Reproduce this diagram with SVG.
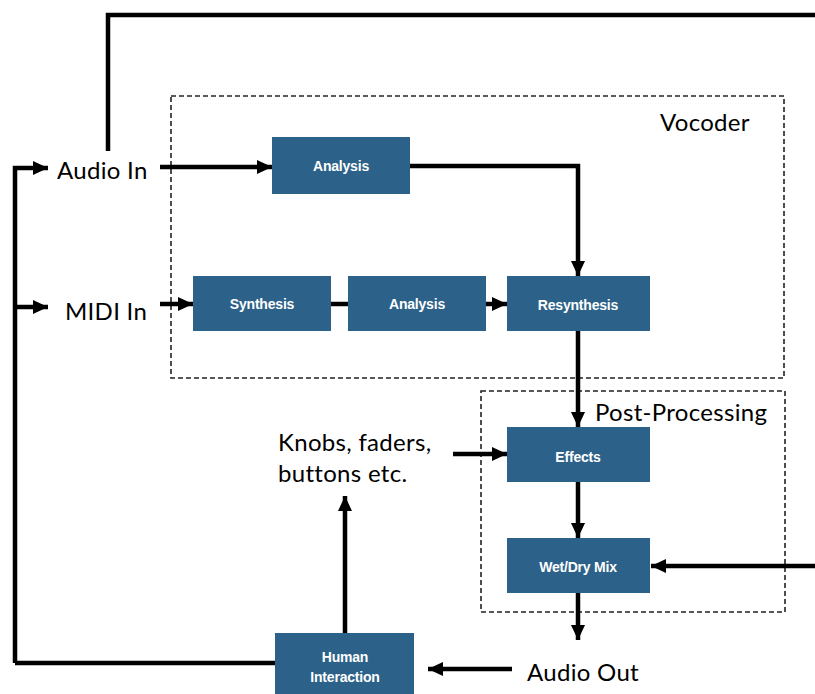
<svg xmlns="http://www.w3.org/2000/svg" width="815" height="694" viewBox="0 0 815 694">
<style>
.box{fill:#2c6189;}
.bl{font-family:"Liberation Sans",Arial,sans-serif;font-weight:bold;font-size:14px;fill:#ffffff;text-anchor:middle;dominant-baseline:central;letter-spacing:-0.2px;}
.lbl{font-family:Lato,"Open Sans",sans-serif;font-size:24px;fill:#000000;dominant-baseline:central;letter-spacing:0.3px;}
.ln{fill:none;stroke:#000;stroke-width:4.5;}
.grp{fill:none;stroke:#222;stroke-width:1.6;stroke-dasharray:5,3;}
</style>
<defs>
<marker id="ah" markerUnits="userSpaceOnUse" markerWidth="16" markerHeight="16" viewBox="0 0 16 16" refX="15" refY="8" orient="auto">
<path d="M0,1 L15,8 L0,15 Z" fill="#000"/>
</marker>
</defs>
<rect width="815" height="694" fill="#ffffff"/>

<g id="groups">
<rect class="grp" x="171" y="96" width="613" height="282"/>
<rect class="grp" x="481" y="391" width="304" height="221"/>
<text class="lbl" x="660" y="121">Vocoder</text>
<text class="lbl" x="595" y="411">Post-Processing</text>
</g>

<g id="connectors">
<polyline class="ln" points="108,151 108,15 815,15"/>
<polyline class="ln" points="15,663 275,663"/>
<polyline class="ln" points="15,663 15,168 48,168" marker-end="url(#ah)"/>
<polyline class="ln" points="15,307 48,307" marker-end="url(#ah)"/>
<polyline class="ln" points="160,167 272,167" marker-end="url(#ah)"/>
<polyline class="ln" points="410,166 578,166 578,276" marker-end="url(#ah)"/>
<polyline class="ln" points="160,304 193,304" marker-end="url(#ah)"/>
<polyline class="ln" points="331,304 348,304"/>
<polyline class="ln" points="486,304 507,304" marker-end="url(#ah)"/>
<polyline class="ln" points="578,331 578,427" marker-end="url(#ah)"/>
<polyline class="ln" points="578,482 578,538" marker-end="url(#ah)"/>
<polyline class="ln" points="815,566 651,566" marker-end="url(#ah)"/>
<polyline class="ln" points="578,593 578,640" marker-end="url(#ah)"/>
<polyline class="ln" points="512,669 428,669" marker-end="url(#ah)"/>
<polyline class="ln" points="345,633 345,496" marker-end="url(#ah)"/>
<polyline class="ln" points="453,454 507,454" marker-end="url(#ah)"/>
</g>

<g id="audio-in"><text class="lbl" x="57" y="169">Audio In</text></g>
<g id="midi-in"><text class="lbl" x="65" y="310">MIDI In</text></g>
<g id="analysis1"><rect class="box" x="272" y="137" width="138" height="57"/><text class="bl" x="341" y="166">Analysis</text></g>
<g id="synthesis"><rect class="box" x="193" y="276" width="138" height="55"/><text class="bl" x="262" y="304">Synthesis</text></g>
<g id="analysis2"><rect class="box" x="348" y="276" width="138" height="55"/><text class="bl" x="417" y="304">Analysis</text></g>
<g id="resynthesis"><rect class="box" x="507" y="276" width="143" height="55"/><text class="bl" x="578" y="305">Resynthesis</text></g>
<g id="effects"><rect class="box" x="507" y="427" width="143" height="55"/><text class="bl" x="578" y="457">Effects</text></g>
<g id="wetdry"><rect class="box" x="507" y="538" width="143" height="55"/><text class="bl" x="578" y="567">Wet/Dry Mix</text></g>
<g id="audio-out"><text class="lbl" x="527" y="671">Audio Out</text></g>
<g id="human"><rect class="box" x="275" y="633" width="139" height="70"/><text class="bl" x="345" y="657">Human</text><text class="bl" x="345" y="677">Interaction</text></g>
<g id="knobs"><text class="lbl" x="278" y="441">Knobs, faders,</text><text class="lbl" x="278" y="472">buttons etc.</text></g>
</svg>
